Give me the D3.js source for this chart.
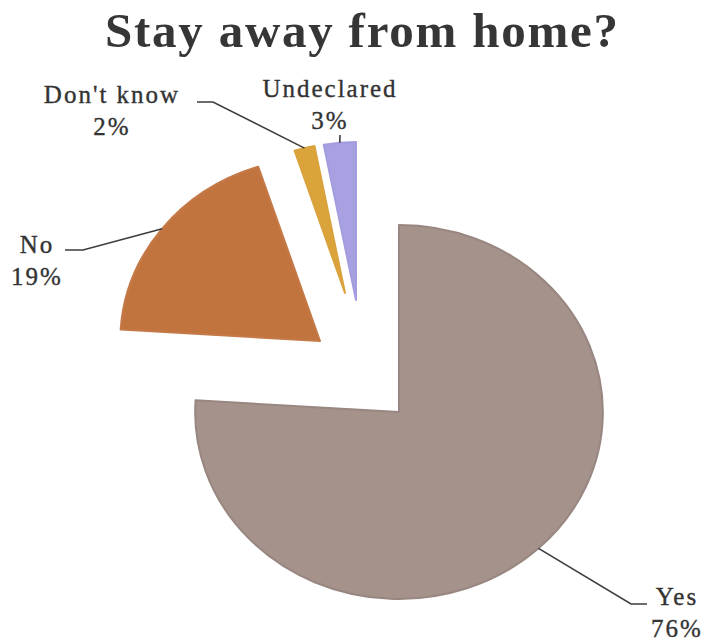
<!DOCTYPE html>
<html>
<head>
<meta charset="utf-8">
<script src="https://cdn.jsdelivr.net/npm/d3@7"></script>
<style>
  html, body { margin: 0; padding: 0; background: #ffffff; }
  svg { display: block; }
</style>
</head>
<body>
<script>
// ---- data ----
const categories = ["Yes", "No", "Don't know", "Undeclared"];
const shares = [76, 19, 2, 3];
const pctLabels = ["76%", "19%", "2%", "3%"];
const chartTitle = "Stay away from home?";

// ---- styling ----
const W = 703, H = 641;
const fills = { "Yes": "#a4928b", "No": "#c2743f", "Don't know": "#dba43b", "Undeclared": "#a7a1e2" };
const rims  = { "Yes": "#988680", "No": "#c47a48", "Don't know": "#d9a23c", "Undeclared": "#a39de0" };

// pie centre, vertical radius and horizontal stretch
const cx = 399, cy = 412, R = 187, sx = 1.09;

// pulled-out slices: [shift x, shift y, radius factor]
const explode = {
  "Yes":        [0, 0, 1],
  "No":         [-79, -71, 0.98],
  "Don't know": [-54, -119, 0.80],
  "Undeclared": [-43, -112, 0.845]
};

// label anchors and leader-line bends
const labelLayout = {
  "Yes":        { x: 677, y: 605, bends: [[631, 604], [647, 604]] },
  "No":         { x: 37,  y: 253, bends: [[83, 250], [65, 250]] },
  "Don't know": { x: 112, y: 103, bends: [[213, 102], [197, 102]] },
  "Undeclared": { x: 330, y: 97,  bends: [[340, 135]] }
};

const svg = d3.select("body").append("svg")
  .attr("width", W).attr("height", H)
  .attr("viewBox", `0 0 ${W} ${H}`);

svg.append("rect").attr("width", W).attr("height", H).attr("fill", "#ffffff");

// title
svg.append("text")
  .attr("x", 361.5).attr("y", 47)
  .attr("text-anchor", "middle")
  .attr("textLength", 513)
  .attr("lengthAdjust", "spacing")
  .style("font-family", "'Liberation Serif', 'DejaVu Serif', serif")
  .style("font-weight", "bold")
  .style("font-size", "49px")
  .style("fill", "#363636")
  .text(chartTitle);

const rows = categories.map((c, i) => ({ cat: c, value: shares[i], pct: pctLabels[i] }));

const pie = d3.pie().sort(null).value(d => d.value);
const arcs = pie(rows);

const arcGen = d3.arc().innerRadius(0);

// slices
const sliceG = svg.append("g").attr("class", "slices");
sliceG.selectAll("g.slice")
  .data(arcs)
  .join("g")
  .attr("class", "slice")
  .attr("transform", d => {
    const e = explode[d.data.cat];
    return `translate(${cx + e[0]},${cy + e[1]}) scale(${sx},1)`;
  })
  .append("path")
  .attr("d", d => arcGen.outerRadius(R * explode[d.data.cat][2])(d))
  .attr("fill", d => fills[d.data.cat])
  .attr("stroke", d => rims[d.data.cat])
  .attr("stroke-width", 2)
  .attr("vector-effect", "non-scaling-stroke")
  .attr("stroke-linejoin", "round");

// point on the outer edge at a slice's middle angle
function edgePoint(d) {
  const e = explode[d.data.cat];
  const r = R * e[2];
  const a = (d.startAngle + d.endAngle) / 2;
  return [cx + e[0] + sx * r * Math.sin(a), cy + e[1] - r * Math.cos(a)];
}

// leader lines
const line = d3.line();
svg.append("g").attr("class", "leaders")
  .selectAll("path")
  .data(arcs)
  .join("path")
  .attr("d", d => line([edgePoint(d)].concat(labelLayout[d.data.cat].bends)))
  .attr("fill", "none")
  .attr("stroke", "#3c3c3c")
  .attr("stroke-width", 1.6);

// labels: category name and share
const labelG = svg.append("g").attr("class", "labels")
  .style("font-family", "'Liberation Serif', 'DejaVu Serif', serif")
  .style("font-size", "25px")
  .style("letter-spacing", "2px")
  .style("fill", "#333333")
  .style("stroke", "#333333")
  .style("stroke-width", "0.35px");

const lab = labelG.selectAll("text")
  .data(arcs)
  .join("text")
  .attr("text-anchor", "middle")
  .attr("x", d => labelLayout[d.data.cat].x)
  .attr("y", d => labelLayout[d.data.cat].y);

lab.append("tspan")
  .attr("x", d => labelLayout[d.data.cat].x)
  .text(d => d.data.cat);
lab.append("tspan")
  .attr("x", d => labelLayout[d.data.cat].x)
  .attr("dy", 32)
  .text(d => d.data.pct);
</script>
</body>
</html>
